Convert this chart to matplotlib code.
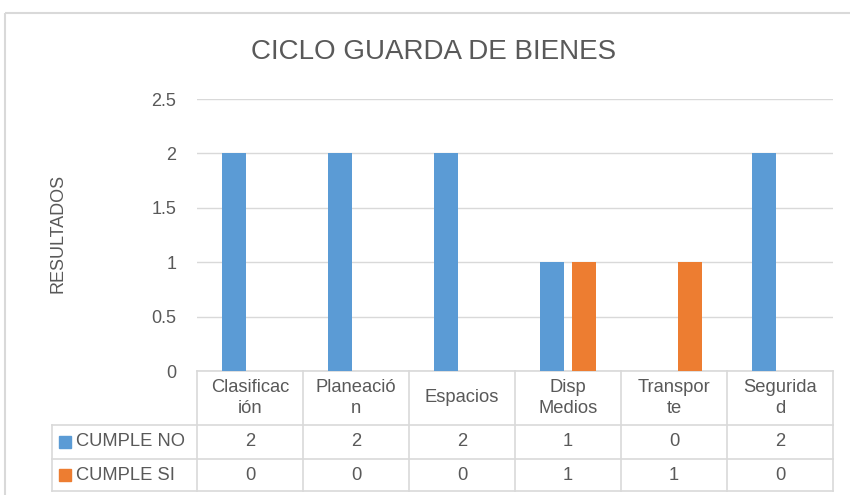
import matplotlib
matplotlib.use("Agg")
import matplotlib.pyplot as plt
import matplotlib.transforms as mtransforms
from matplotlib.patches import Rectangle
import numpy as np

plt.rcParams['font.family'] = ['Liberation Sans Narrow', 'Liberation Sans', 'DejaVu Sans']

title = "CICLO GUARDA DE BIENES"
ylabel = "RESULTADOS"
categories = ["Clasificac\nión", "Planeació\nn", "Espacios", "Disp\nMedios", "Transpor\nte", "Segurida\nd"]
series_names = ["CUMPLE NO", "CUMPLE SI"]
cumple_no = [2, 2, 2, 1, 0, 2]
cumple_si = [0, 0, 0, 1, 1, 0]
yticks = [0, 0.5, 1, 1.5, 2, 2.5]
ytick_labels = ["0", "0.5", "1", "1.5", "2", "2.5"]

BLUE = "#5B9BD5"
ORANGE = "#ED7D31"
TXT = "#595959"
GRID = "#D9D9D9"

W, H = 850, 495
fig = plt.figure(figsize=(W / 100, H / 100), dpi=100)

# overlay axes in pixel coords
ov = fig.add_axes([0, 0, 1, 1], zorder=0)
ov.set_xlim(0, W)
ov.set_ylim(H, 0)
ov.axis("off")

# chart border
ov.add_patch(Rectangle((5, 13), W, H, fill=False, edgecolor=GRID, lw=1.5))

left, right, top, bottom = 197, 833, 99, 371
ax = fig.add_axes([left / W, 1 - bottom / H, (right - left) / W, (bottom - top) / H], zorder=2)
ax.patch.set_alpha(0)

x = np.arange(len(categories))
bw = 0.226
off = 0.148
ax.bar(x - off, cumple_no, bw, color=BLUE, zorder=3)
ax.bar(x + off, cumple_si, bw, color=ORANGE, zorder=3)

ax.set_xlim(-0.5, len(categories) - 0.5)
ax.set_ylim(0, 2.5)
ax.set_yticks(yticks)
ax.set_yticklabels(ytick_labels)
ax.tick_params(axis="y", length=0, pad=15, labelsize=13, labelcolor=TXT)
ax.set_xticks([])
ax.grid(axis="y", color=GRID, lw=1, zorder=0)
for s in ax.spines.values():
    s.set_visible(False)

fig.text(434 / W, 1 - 52 / H, title, ha="center", va="center", fontsize=20, color=TXT)
fig.text(58 / W, 1 - 233 / H, ylabel, ha="center", va="center", rotation=90, fontsize=13, color=TXT)

# data table
tr = mtransforms.blended_transform_factory(ax.transData, ov.transData)
y0, y1, y2, y3 = 371, 425, 459, 491
lc = GRID
lw = 1.2
ov.plot([left, right], [y0, y0], color=lc, lw=lw)
for yy in (y1, y2, y3):
    ov.plot([52, right], [yy, yy], color=lc, lw=lw)
ov.plot([52, 52], [y1, y3], color=lc, lw=lw)
for b in np.arange(len(categories) + 1) - 0.5:
    ov.plot([b, b], [y0, y3], color=lc, lw=lw, transform=tr)

fs = 13.2
for i, c in enumerate(categories):
    ov.text(i, (y0 + y1) / 2, c, transform=tr, ha="center", va="center",
            fontsize=fs, color=TXT, linespacing=1.3)
    ov.text(i, (y1 + y2) / 2, str(cumple_no[i]), transform=tr, ha="center", va="center",
            fontsize=fs, color=TXT)
    ov.text(i, (y2 + y3) / 2, str(cumple_si[i]), transform=tr, ha="center", va="center",
            fontsize=fs, color=TXT)

for name, col, (ya, yb) in zip(series_names, [BLUE, ORANGE], [(y1, y2), (y2, y3)]):
    yc = (ya + yb) / 2
    ov.add_patch(Rectangle((59, yc - 6), 12, 12, color=col))
    ov.text(76, yc, name, ha="left", va="center", fontsize=fs, color=TXT)

fig.savefig("out.png", dpi=100)
